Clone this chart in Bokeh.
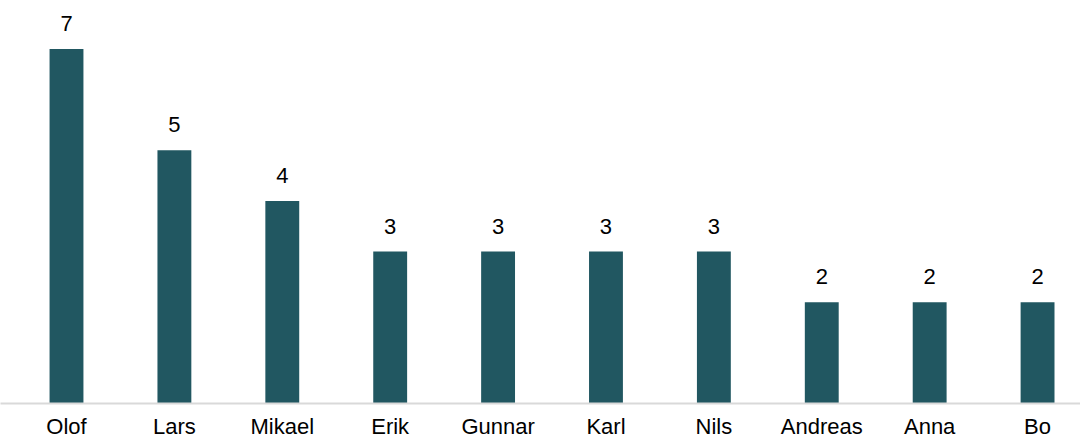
from bokeh.plotting import figure
from bokeh.models import Range1d, ColumnDataSource, FixedTicker
from bokeh.core.properties import value
from bokeh.embed import file_html
from bokeh.resources import INLINE

names = ["Olof", "Lars", "Mikael", "Erik", "Gunnar", "Karl", "Nils", "Andreas", "Anna", "Bo"]
counts = [7, 5, 4, 3, 3, 3, 3, 2, 2, 2]

xs = list(range(len(names)))
src = ColumnDataSource(dict(x=xs, top=counts, lab=[str(c) for c in counts]))

p = figure(width=1080, height=441, output_backend="svg", toolbar_location=None,
           x_range=Range1d(-0.6117, 9.398), y_range=Range1d(0, 7.96),
           min_border_left=0, min_border_right=0, min_border_top=0, min_border_bottom=0)
p.outline_line_color = None
p.grid.visible = False
p.yaxis.visible = False
p.background_fill_color = "white"
p.border_fill_color = "white"

p.vbar(x="x", top="top", bottom=0, width=0.314, source=src,
       fill_color="#215761", line_color=None)
p.text(x="x", y="top", text="lab", source=src, text_align="center", text_baseline="bottom",
       y_offset=-18, text_font=value("Liberation Sans"), text_font_size="22px", text_color="#000000")

ax = p.xaxis[0]
ax.ticker = FixedTicker(ticks=xs)
ax.major_label_overrides = {i: n for i, n in enumerate(names)}
ax.major_tick_line_color = None
ax.minor_tick_line_color = None
ax.axis_line_color = "#d9d9d9"
ax.axis_line_width = 2
ax.major_label_text_font = "Liberation Sans"
ax.major_label_text_font_size = "22px"
ax.major_label_text_color = "#000000"
ax.major_label_standoff = 4

open("out.html", "w").write(file_html(p, INLINE))
